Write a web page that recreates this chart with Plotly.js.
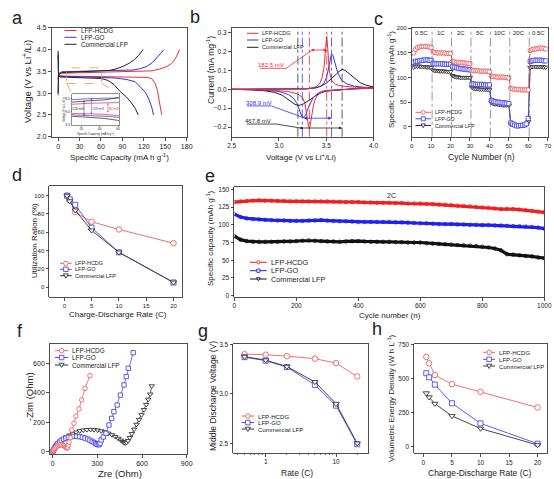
<!DOCTYPE html>
<html><head><meta charset="utf-8">
<script src="https://cdn.plot.ly/plotly-3.0.1.min.js"></script>
<style>html,body{margin:0;padding:0;background:#fff;}#chart{width:554px;height:479px;}</style>
</head><body><div id="chart"></div>
<script>
// ================= DATA =================
const seriesNames = ['LFP-HCDG', 'LFP-GO', 'Commercial LFP'];

// (a) charge / discharge curves
const capHCDGch = [0, 0.5, 5, 30, 60, 90, 110, 130, 142, 152, 158, 162, 166, 170];
const vHCDGch   = [3.30, 3.44, 3.455, 3.465, 3.47, 3.48, 3.49, 3.51, 3.55, 3.61, 3.67, 3.74, 3.85, 4.0];
const capHCDGdis = [0, 0.5, 2, 10, 40, 80, 110, 125, 131, 136, 139, 141, 143, 145];
const vHCDGdis   = [3.86, 3.45, 3.40, 3.388, 3.383, 3.378, 3.372, 3.36, 3.33, 3.22, 3.06, 2.9, 2.72, 2.5];
const capGOch = [0, 0.5, 5, 30, 60, 90, 105, 115, 124, 132, 138, 143, 148];
const vGOch   = [2.95, 3.44, 3.49, 3.50, 3.505, 3.515, 3.53, 3.56, 3.61, 3.70, 3.80, 3.90, 4.0];
const capGOdis = [0, 0.5, 2, 15, 30, 50, 80, 95, 108, 115, 122, 127, 131, 133.5];
const vGOdis   = [3.90, 3.42, 3.385, 3.375, 3.371, 3.365, 3.345, 3.315, 3.26, 3.15, 3.02, 2.86, 2.68, 2.5];
const capComCh = [0, 0.5, 5, 15, 30, 45, 60, 72, 82, 92, 100, 107, 113, 119];
const vComCh   = [3.0, 3.43, 3.47, 3.477, 3.485, 3.49, 3.5, 3.52, 3.56, 3.62, 3.69, 3.77, 3.87, 4.0];
const capComDis = [0, 0.5, 3, 15, 30, 45, 60, 70, 78, 86, 95, 102, 108, 112];
const vComDis   = [3.97, 3.40, 3.37, 3.365, 3.358, 3.35, 3.335, 3.29, 3.2, 3.05, 2.92, 2.79, 2.65, 2.5];
const polarLabels = ['82 mV', '129 mV', '126 mV'];

// (b) cyclic voltammetry
const cvHCDGv = [2.5, 3.0, 3.2, 3.3, 3.36, 3.40, 3.43, 3.455, 3.475, 3.49, 3.50, 3.505, 3.51, 3.52, 3.535, 3.56, 3.6, 3.7, 3.85, 4.0,
                 3.8, 3.6, 3.5, 3.45, 3.41, 3.385, 3.365, 3.35, 3.335, 3.322, 3.31, 3.295, 3.275, 3.25, 3.2, 3.1, 2.9, 2.7, 2.5];
const cvHCDGi = [0, 0, 0.001, 0.003, 0.008, 0.015, 0.03, 0.06, 0.11, 0.18, 0.25, 0.28, 0.25, 0.17, 0.09, 0.045, 0.025, 0.015, 0.01, 0.006,
                 0.002, -0.003, -0.008, -0.015, -0.03, -0.05, -0.085, -0.13, -0.18, -0.212, -0.19, -0.13, -0.075, -0.045, -0.025, -0.012, -0.004, -0.001, 0];
const cvGOv = [2.5, 3.0, 3.3, 3.4, 3.45, 3.48, 3.5, 3.52, 3.54, 3.556, 3.57, 3.59, 3.62, 3.66, 3.72, 3.8, 3.9, 4.0,
               3.8, 3.6, 3.5, 3.45, 3.4, 3.36, 3.33, 3.3, 3.28, 3.265, 3.254, 3.24, 3.22, 3.19, 3.15, 3.1, 3.0, 2.9, 2.7, 2.5];
const cvGOi = [0, 0, 0.002, 0.008, 0.018, 0.035, 0.06, 0.1, 0.155, 0.19, 0.18, 0.14, 0.09, 0.05, 0.028, 0.016, 0.009, 0.006,
               0.002, -0.002, -0.006, -0.012, -0.025, -0.045, -0.075, -0.11, -0.138, -0.148, -0.15, -0.14, -0.11, -0.075, -0.045, -0.028, -0.012, -0.006, -0.002, 0];
const cvComV = [2.5, 3.0, 3.3, 3.4, 3.45, 3.5, 3.55, 3.6, 3.64, 3.668, 3.7, 3.74, 3.8, 3.86, 3.92, 4.0,
                3.8, 3.6, 3.5, 3.45, 3.4, 3.35, 3.3, 3.26, 3.23, 3.2, 3.17, 3.13, 3.08, 3.03, 2.95, 2.85, 2.7, 2.5];
const cvComI = [0, 0, 0.003, 0.01, 0.018, 0.032, 0.052, 0.077, 0.097, 0.105, 0.1, 0.085, 0.058, 0.035, 0.022, 0.012,
                0.004, -0.003, -0.01, -0.018, -0.03, -0.048, -0.065, -0.077, -0.083, -0.085, -0.08, -0.065, -0.045, -0.03, -0.016, -0.008, -0.003, 0];
const peaksHCDG = [3.322, 3.505];
const peaksGO = [3.247, 3.556];
const peaksCom = [3.200, 3.668];
const gapLabels = ['182.5 mV', '308.9 mV', '467.8 mV'];

// (c) rate capability
const cycles = [1,2,3,4,5,6,7,8,9,10,11,12,13,14,15,16,17,18,19,20,21,22,23,24,25,26,27,28,29,30,31,32,33,34,35,36,37,38,39,40,
                41,42,43,44,45,46,47,48,49,50,51,52,53,54,55,56,57,58,59,60,61,62,63,64,65,66,67,68,69];
const rateHCDG = [150,157,161,162,163,163,163,163,162,161, 152,151,150,150,150,150,150,149,149,149,
                  133,132,131,131,130,130,130,129,129,128, 115,114,114,114,113,113,113,113,113,112,
                  103,102,102,101,101,101,101,100,100,99, 78,77,76,76,76,75,75,75,75,75,
                  155,157,158,158,159,160,160,159,158];
const rateGO = [131,133,133,134,135,135,136,136,135,135, 129,128,128,128,128,128,127,127,127,127,
                122,121,120,119,118,118,117,117,116,116, 87,87,86,86,86,86,86,85,85,85,
                54,52,51,50,50,49,49,48,48,47, 8,6,4,2,2,3,3,4,6,17,
                133,134,135,135,135,135,135,134,134];
const rateCom = [121,123,123,123,122,122,122,121,121,120, 115,114,114,113,113,113,113,112,112,112,
                 104,102,101,101,100,100,100,100,100,100, 80,78,77,77,76,76,76,76,75,75,
                 49,47,46,46,45,45,44,44,44,44, 5,4,3,3,3,3,3,3,4,10,
                 120,122,122,122,122,122,122,121,121];
const rateLabels = ['0.5C', '1C', '2C', '5C', '10C', '20C', '0.5C'];

// (d), (g), (h) vs C-rate
const cRates = [0.5, 1, 2, 5, 10, 20];
const utilHCDG = [100, 95, 82, 71.5, 63, 48];
const utilGO   = [100, 96, 90, 65, 38, 5];
const utilCom  = [100, 94, 84, 62, 38, 5];
const midVHCDG = [3.40, 3.395, 3.38, 3.355, 3.31, 3.175];
const midVGO   = [3.37, 3.335, 3.27, 3.09, 2.88, 2.49];
const midVCom  = [3.375, 3.34, 3.275, 3.12, 2.90, 2.50];
const energyHCDG = [658, 611, 525, 458, 402, 287];
const energyGO   = [538, 508, 455, 318, 171, 22];
const energyCom  = [392, 362, 315, 225, 133, 12];

// (e) long cycling at 2C
const longCycles = [0,20,40,60,80,100,120,140,160,180,200,220,240,260,280,300,320,340,360,380,400,420,440,460,480,500,
                    520,540,560,580,600,620,640,660,680,700,720,740,760,780,800,820,840,860,880,900,920,940,960,980,1000];
const longHCDG = [132,133,133.5,134,134.5,134,134,133.5,133.5,133,133,133,133,133,133,133,132.5,132.5,132,132,132,131.5,131.5,131,131,131,
                  130.5,130.5,130,130,130,129.5,129,128.5,128,127.5,127,126.5,126,125,124.5,124,123,122,122.5,122,121.5,120.5,119.5,118.5,117.5];
const longGO = [115,111,109,108,107.5,107,106.5,106,106,105.5,105.5,105.5,106,106,106.5,106,105.5,105,105,104.5,104,104,104,104,104,104,
                103.5,103.5,103,102.5,102,102,101.5,101,101,101,100.5,100.5,100,100,99.5,99.5,99,99,98.5,98,98,97.5,97,96,94.5];
const longCom = [84,79,77,76,76,76,76,76,76.5,76.5,77,77.5,78,77.5,77,76.5,76.5,76,76.5,77,77,76.5,76,76,76,76,
                 75.5,75.5,75,75,75,74,73.5,73,72.5,72,71.5,71,70.5,70,69,68,66.5,64,58.5,58,57,56,55.5,54,53];

// (f) Nyquist plots
const zreHCDG = [2,5,9,14,20,27,35,44,53,62,71,79,86,92,97,101,105,110,118,128,143,156,177,195,217,250];
const zimHCDG = [2,8,15,22,29,36,41,45,47,46,43,38,32,27,25,30,45,65,95,147,193,242,290,351,430,516];
const zreGO = [2,5,9,14,20,27,36,46,58,72,88,105,123,142,161,180,199,217,234,250,265,278,289,298,306,312,318,326,340,358,378,396,411,433,455,479,494,508,541];
const zimGO = [2,9,17,26,36,46,56,66,76,85,92,98,102,104,104,102,98,92,86,78,70,62,55,50,47,48,58,80,100,125,181,226,272,317,384,453,510,566,672];
const zreCom = [3,8,15,25,38,53,70,90,112,135,158,182,206,230,254,278,302,326,350,374,398,420,440,457,470,480,488,496,506,518,532,547,563,580,597,613,628,642,655,665];
const zimCom = [2,10,22,36,52,68,84,99,112,123,133,141,146,149,150,149,146,141,134,125,114,102,90,78,68,61,58,62,75,95,122,152,185,218,250,285,320,355,390,446];

// ================= LAYOUT HELPERS =================
const W = 554, H = 479;
const P = x => x / W, Q = y => 1 - y / H;
const FONT = 'Liberation Sans, Arial, sans-serif';
const RED = 'rgb(236,45,50)', BLUE = 'rgb(50,50,235)', BLACK = '#222';
const RED2 = 'rgb(238,95,95)', BLUE2 = 'rgb(75,75,232)', BLACK2 = '#333';

function ax(extra, fs) {
  return Object.assign({
    showline: true, linecolor: '#222', linewidth: 0.8, mirror: true,
    ticks: 'outside', ticklen: 3, tickwidth: 0.8, tickcolor: '#222',
    showgrid: false, zeroline: false, automargin: false, fixedrange: true,
    tickfont: {size: fs || 6.5, color: '#222', family: FONT}
  }, extra);
}

const traces = [];
function ln(x, y, n, color, w) {
  traces.push({x: x, y: y, xaxis: 'x' + (n === 1 ? '' : n), yaxis: 'y' + (n === 1 ? '' : n),
    mode: 'lines', line: {color: color, width: w}, hoverinfo: 'skip', showlegend: false});
}
function lm(x, y, n, color, sym, ms, lw) {
  traces.push({x: x, y: y, xaxis: 'x' + n, yaxis: 'y' + n, mode: 'lines+markers',
    line: {color: color, width: lw},
    marker: {symbol: sym, size: ms, color: 'white', line: {color: color, width: 0.9}},
    hoverinfo: 'skip', showlegend: false});
}

// (a) main + inset
const aSeries = [[capHCDGch, vHCDGch, RED], [capHCDGdis, vHCDGdis, RED], [capGOch, vGOch, BLUE], [capGOdis, vGOdis, BLUE],
                 [capComCh, vComCh, BLACK], [capComDis, vComDis, BLACK]];
aSeries.forEach(s => { ln(s[0], s[1], 1, s[2], 1); });
aSeries.forEach(s => { ln(s[0], s[1], 9, s[2], 0.7); });
// (b)
ln(cvComV, cvComI, 2, BLACK, 1);
ln(cvGOv, cvGOi, 2, BLUE, 1);
ln(cvHCDGv, cvHCDGi, 2, RED, 1);
// (c)
lm(cycles, rateCom, 3, BLACK2, 'triangle-down', 4.5, 0.8);
lm(cycles, rateGO, 3, BLUE2, 'square', 4.2, 0.8);
lm(cycles, rateHCDG, 3, RED2, 'circle', 4.5, 0.8);
// (d)
lm(cRates, utilHCDG, 4, RED2, 'circle', 5.5, 0.9);
lm(cRates, utilGO, 4, BLUE2, 'square', 5, 0.9);
lm(cRates, utilCom, 4, BLACK2, 'triangle-down', 5.5, 0.9);
// (e)
[[longCom, '#111'], [longGO, 'rgb(30,30,240)'], [longHCDG, 'rgb(240,30,30)']].forEach(s => {
  traces.push({x: longCycles, y: s[0], xaxis: 'x5', yaxis: 'y5', mode: 'lines+markers',
    line: {color: s[1], width: 3.2}, marker: {symbol: 'circle-open', size: 3.5, color: s[1], line: {width: 0.8}},
    hoverinfo: 'skip', showlegend: false});
});
// (f)
lm(zreCom, zimCom, 6, BLACK2, 'triangle-down', 4.8, 0.8);
lm(zreGO, zimGO, 6, BLUE2, 'square', 4.3, 0.8);
lm(zreHCDG, zimHCDG, 6, RED2, 'circle', 4.5, 0.8);
// (g)
lm(cRates, midVHCDG, 7, RED2, 'circle', 5.5, 0.9);
lm(cRates, midVGO, 7, BLUE2, 'square', 5, 0.9);
lm(cRates, midVCom, 7, BLACK2, 'triangle-down', 5.5, 0.9);
// (h)
lm(cRates, energyHCDG, 8, RED2, 'circle', 5.5, 0.9);
lm(cRates, energyGO, 8, BLUE2, 'square', 5, 0.9);
lm(cRates, energyCom, 8, BLACK2, 'triangle-down', 5.5, 0.9);

// ================= AXES =================
const layout = {
  width: W, height: H, margin: {l: 0, r: 0, t: 0, b: 0},
  paper_bgcolor: 'white', plot_bgcolor: 'rgba(0,0,0,0)',
  font: {family: FONT, color: '#222'}, showlegend: false,
  xaxis: ax({domain: [P(51.7), P(186.7)], range: [-9, 180], dtick: 30, tick0: 0, anchor: 'y'}, 7),
  yaxis: ax({domain: [Q(136.7), Q(27.7)], range: [2, 4.5], dtick: 0.5, tick0: 2, tickformat: '.1f', anchor: 'x'}, 7),
  xaxis2: ax({domain: [P(231.7), P(373.5)], range: [2.5, 4.0], dtick: 0.5, tick0: 2.5, tickformat: '.1f', anchor: 'y2'}, 6.5),
  yaxis2: ax({domain: [Q(136.7), Q(28.3)], range: [-0.251, 0.323], dtick: 0.1, tick0: 0, tickformat: '.1f', anchor: 'x2'}, 6.5),
  xaxis3: ax({domain: [P(411.7), P(547.7)], range: [0, 70], dtick: 10, anchor: 'y3'}, 6),
  yaxis3: ax({domain: [Q(136.7), Q(28.3)], range: [-20, 200], dtick: 50, tick0: 0, anchor: 'x3'}, 6),
  xaxis4: ax({domain: [P(49.3), P(181.7)], range: [-2.75, 21.5], dtick: 5, tick0: 0, anchor: 'y4'}, 6),
  yaxis4: ax({domain: [Q(296.7), Q(186)], range: [-10.6, 110.6], dtick: 20, tick0: 0, anchor: 'x4'}, 6),
  xaxis5: ax({domain: [P(234.3), P(544.3)], range: [0, 1000], dtick: 200, anchor: 'y5'}, 6.5),
  yaxis5: ax({domain: [Q(296.7), Q(186.7)], range: [-1.4, 153.7], dtick: 25, tick0: 0, anchor: 'x5'}, 6.5),
  xaxis6: ax({domain: [P(50), P(186.7)], range: [-18, 900], dtick: 300, tick0: 0, anchor: 'y6'}, 7),
  yaxis6: ax({domain: [Q(454), Q(344.3)], range: [-15.6, 729], dtick: 200, tick0: 0, anchor: 'x6'}, 7),
  xaxis7: ax({domain: [P(233.3), P(368.3)], type: 'log', range: [-0.461, 1.459], tickvals: [1, 10], ticktext: ['1', '10'], anchor: 'y7',
    minor: {ticks: 'outside', ticklen: 1.8, tickwidth: 0.6, tickcolor: '#222', tickvals: [0.4,0.5,0.6,0.7,0.8,0.9,2,3,4,5,6,7,8,9,20]}}, 6.5),
  yaxis7: ax({domain: [Q(452.7), Q(344.3)], range: [2.405, 3.5], dtick: 0.5, tick0: 2.5, tickformat: '.1f', anchor: 'x7'}, 6.5),
  xaxis8: ax({domain: [P(414.3), P(546.7)], range: [-1.6, 21.6], dtick: 5, tick0: 0, anchor: 'y8'}, 6.5),
  yaxis8: ax({domain: [Q(453.3), Q(344.3)], range: [-48.4, 750], dtick: 250, tick0: 0, anchor: 'x8'}, 6.5),
  xaxis9: ax({domain: [P(72), P(119)], range: [10, 61], tickvals: [20, 40, 60], anchor: 'y9', ticklen: 1, tickwidth: 0.5, linewidth: 0.5}, 3.3),
  yaxis9: ax({domain: [Q(125), Q(94)], range: [3.3, 3.535], tickvals: [3.3, 3.4, 3.5], tickformat: '.1f', anchor: 'x9', ticklen: 1, tickwidth: 0.5, linewidth: 0.5}, 3.3),
  shapes: [], annotations: []
};
const S = layout.shapes, A = layout.annotations;

function txt(x, y, text, size, opts) {
  A.push(Object.assign({xref: 'paper', yref: 'paper', x: P(x), y: Q(y), text: text, showarrow: false,
    font: {size: size, color: '#222', family: FONT}, xanchor: 'center', yanchor: 'middle'}, opts || {}));
}
function ytitle(x, y, text, size) { txt(x, y, text, size, {textangle: -90}); }

// panel letters
[['a', 17, 18], ['b', 195, 17], ['c', 378, 19], ['d', 17, 175], ['e', 210, 176], ['f', 20, 331], ['g', 203, 331], ['h', 377, 329]]
  .forEach(l => txt(l[1], l[2], l[0], 18));

// axis titles
ytitle(27, 82, 'Voltage (V vs Li<sup>+</sup>/Li)', 9.5);
txt(119, 157, 'Specific Capacity (mA h g<sup>-1</sup>)', 8);
ytitle(211, 70, 'Current (mA mg<sup>-1</sup>)', 8.5);
txt(301, 157, 'Voltage (V vs Li<sup>+</sup>/Li)', 8);
ytitle(391, 80, 'Specific Capacity (mAh g<sup>-1</sup>)', 8);
txt(481, 157, 'Cycle Number (n)', 8.5);
ytitle(34, 241, 'Utilization Ration (%)', 8);
txt(118, 314, 'Charge-Discharge Rate (C)', 8);
ytitle(210, 238, 'Specific capacity (mAh g<sup>-1</sup>)', 8);
txt(390, 315, 'Cycle number (n)', 8);
ytitle(29, 397, '-Zim (Ohm)', 9.5);
txt(120, 473, 'Zre (Ohm)', 9.5);
ytitle(213, 396, 'Middle Discharge Voltage (V)', 8.5);
txt(297, 473, 'Rate (C)', 8.5);
ytitle(391, 398, 'Volumetric Energy Density (W h L<sup>-1</sup>)', 8);
txt(480, 473, 'Charge-Discharge Rate (C)', 8.5);

// legends
function legend(cols, syms, x0, x1, xt, ys, fs, ms, lw) {
  seriesNames.forEach((name, i) => {
    const y = ys[i], c = cols[i];
    S.push({type: 'line', xref: 'paper', yref: 'paper', x0: P(x0), x1: P(x1), y0: Q(y), y1: Q(y), line: {color: c, width: lw || 1}});
    const s = syms ? syms[i] : null, cx = (x0 + x1) / 2, r = ms / 2;
    if (s === 'circle' || s === 'square') {
      S.push({type: s === 'circle' ? 'circle' : 'rect', xref: 'paper', yref: 'paper', x0: P(cx - r), x1: P(cx + r),
        y0: Q(y + r), y1: Q(y - r), fillcolor: 'white', line: {color: c, width: 0.9}});
    } else if (s === 'tri') {
      S.push({type: 'path', xref: 'paper', yref: 'paper',
        path: `M ${P(cx - r * 1.1)},${Q(y - r * 0.8)} L ${P(cx + r * 1.1)},${Q(y - r * 0.8)} L ${P(cx)},${Q(y + r * 1.1)} Z`,
        fillcolor: 'white', line: {color: c, width: 0.9}});
    }
    txt(xt, y, name, fs, {xanchor: 'left'});
  });
}
const SY = ['circle', 'square', 'tri'];
legend([RED, BLUE, BLACK], null, 64.5, 76.5, 78.5, [30.5, 37.3, 44.3], 6.3);
legend([RED, BLUE, BLACK], null, 247, 258.5, 260, [33.3, 40, 47.3], 5.6);
legend([RED2, BLUE2, BLACK2], SY, 415.5, 431, 432.5, [112.3, 118.8, 125.5], 5.3, 4);
legend([RED2, BLUE2, BLACK2], SY, 60, 71.7, 73, [263.3, 269.3, 275.7], 5.5, 4.5);
legend(['rgb(240,30,30)', 'rgb(30,30,240)', '#111'], SY, 250, 266.7, 269, [262.3, 270.7, 279], 7.3, 3.2);
legend([RED2, BLUE2, BLACK2], SY, 55, 68.3, 70, [350.7, 357.5, 365], 6.4, 4.5);
legend([RED2, BLUE2, BLACK2], SY, 241.7, 254, 255.5, [416, 422.5, 429], 6.1, 4.5);
legend([RED2, BLUE2, BLACK2], SY, 483.3, 495, 496.7, [352.3, 359.3, 366], 6.1, 4.5);

// (a) zoom box + connectors
const OR = 'rgb(240,150,40)';
S.push({type: 'rect', xref: 'x', yref: 'y', x0: 12, x1: 61, y0: 3.22, y1: 3.58, line: {color: OR, width: 0.8, dash: 'dash'}});
S.push({type: 'line', xref: 'paper', yref: 'paper', x0: P(66.8), y0: Q(83.5), x1: P(72), y1: Q(94), line: {color: OR, width: 0.8, dash: 'dash'}});
S.push({type: 'line', xref: 'paper', yref: 'paper', x0: P(101.7), y0: Q(83.5), x1: P(119), y1: Q(94), line: {color: OR, width: 0.8, dash: 'dash'}});
// inset polarization arrows and labels
[[49, 3.465, 3.383, RED, 114, polarLabels[0]], [31, 3.50, 3.371, BLUE, 98, polarLabels[1]], [23, 3.485, 3.358, BLACK, 78, polarLabels[2]]]
  .forEach(a => {
    A.push({xref: 'x9', yref: 'y9', x: a[0], y: a[1], ax: a[0], ay: a[2], axref: 'x9', ayref: 'y9', text: '', showarrow: true,
      arrowhead: 2, startarrowhead: 2, arrowside: 'end+start', arrowsize: 0.6, arrowwidth: 0.5, arrowcolor: a[3]});
    txt(a[4], 109.5, a[5], 3.5, {font: {size: 3.5, color: a[3], family: FONT}});
  });
ytitle(64, 110, 'Voltage (V vs Li<sup>+</sup>/Li)', 2.8);
txt(95.5, 134, 'Specific Capacity (mA h g<sup>-1</sup>)', 3);

// (b) peak markers, arrows, labels
[[peaksCom, '#333'], [peaksGO, 'rgb(40,60,245)'], [peaksHCDG, 'rgb(240,40,40)']].forEach(p => {
  p[0].forEach(v => S.push({type: 'line', xref: 'x2', yref: 'y2 domain', x0: v, x1: v, y0: 0, y1: 1,
    line: {color: p[1], width: 0.8, dash: 'dashdot'}}));
});
const arrowRows = [[peaksHCDG, 0.208, RED, gapLabels[0], 2.92, 0.13, 2.80, 3.076, 0.111],
                   [peaksGO, -0.153, BLUE, gapLabels[1], 2.785, -0.071, 2.66, 2.92, -0.088],
                   [peaksCom, -0.205, BLACK, gapLabels[2], 2.78, -0.167, 2.66, 2.97, -0.184]];
arrowRows.forEach(r => {
  A.push({xref: 'x2', yref: 'y2', x: r[0][1], y: r[1], ax: r[0][0], ay: r[1], axref: 'x2', ayref: 'y2', text: '', showarrow: true,
    arrowhead: 2, startarrowhead: 2, arrowside: 'end+start', arrowsize: 0.8, arrowwidth: 0.8, arrowcolor: r[2]});
  A.push({xref: 'x2', yref: 'y2', x: r[4], y: r[5], text: r[3], showarrow: false, font: {size: 6, color: r[2], family: FONT}});
  S.push({type: 'line', xref: 'x2', yref: 'y2', x0: r[6], x1: r[7], y0: r[8], y1: r[8], line: {color: r[2], width: 0.8}});
  S.push({type: 'line', xref: 'x2', yref: 'y2', x0: r[7], x1: r[0][0] + 0.03, y0: r[8], y1: r[1], line: {color: r[2], width: 0.8}});
});

// (c) rate segment dividers + labels
[10.5, 20.5, 30.5, 40.5, 50.5, 60.5].forEach(v => S.push({type: 'line', xref: 'x3', yref: 'y3 domain', x0: v, x1: v, y0: 0, y1: 1,
  line: {color: '#555', width: 0.6, dash: 'dashdot'}}));
rateLabels.forEach((t, i) => A.push({xref: 'x3', yref: 'y3', x: 5.2 + 10 * i, y: 190, text: t, showarrow: false,
  font: {size: 6, color: '#222', family: FONT}}));

// (e) label
txt(391.5, 195, '2C', 7);

Plotly.newPlot('chart', traces, layout, {staticPlot: true, displayModeBar: false});
</script>
</body></html>
